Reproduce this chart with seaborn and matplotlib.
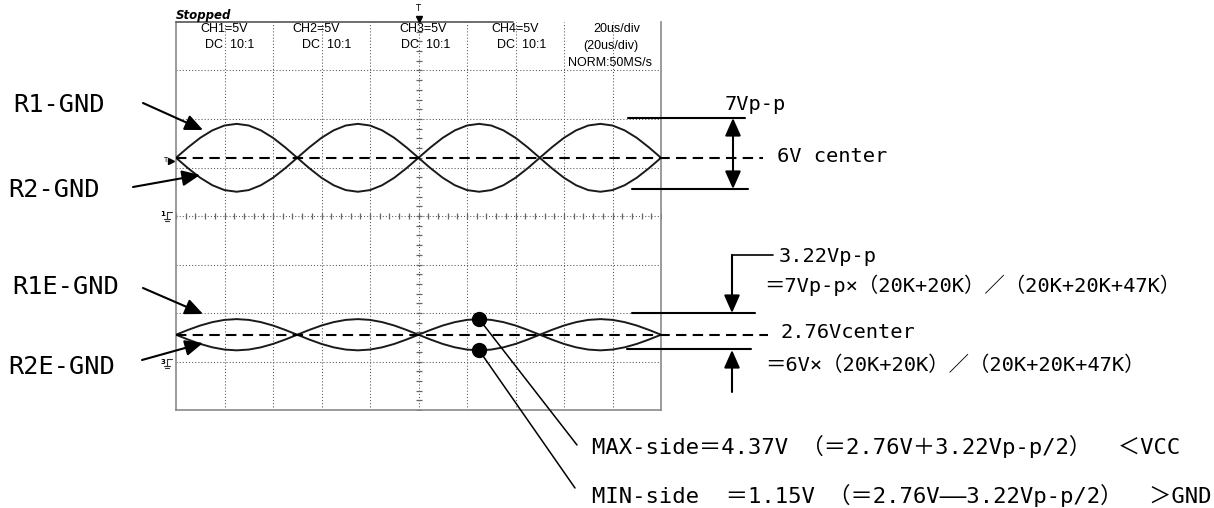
import matplotlib
matplotlib.use("Agg")
import matplotlib.pyplot as plt
import pandas as pd
import seaborn as sns

# ---------------- data ----------------
time_us = list(range(0, 205, 5))          # sample times, 0..200 us (10 div x 20 us)
r1_gnd = [6.00, 7.08, 8.06, 8.83, 9.33, 9.50, 9.33, 8.83, 8.06, 7.08,
          6.00, 4.92, 3.94, 3.17, 2.67, 2.50, 2.67, 3.17, 3.94, 4.92,
          6.00, 7.08, 8.06, 8.83, 9.33, 9.50, 9.33, 8.83, 8.06, 7.08,
          6.00, 4.92, 3.94, 3.17, 2.67, 2.50, 2.67, 3.17, 3.94, 4.92, 6.00]
r2_gnd = [6.00, 4.92, 3.94, 3.17, 2.67, 2.50, 2.67, 3.17, 3.94, 4.92,
          6.00, 7.08, 8.06, 8.83, 9.33, 9.50, 9.33, 8.83, 8.06, 7.08,
          6.00, 4.92, 3.94, 3.17, 2.67, 2.50, 2.67, 3.17, 3.94, 4.92,
          6.00, 7.08, 8.06, 8.83, 9.33, 9.50, 9.33, 8.83, 8.06, 7.08, 6.00]
r1e_gnd = [2.76, 3.26, 3.71, 4.06, 4.29, 4.37, 4.29, 4.06, 3.71, 3.26,
           2.76, 2.26, 1.81, 1.46, 1.23, 1.15, 1.23, 1.46, 1.81, 2.26,
           2.76, 3.26, 3.71, 4.06, 4.29, 4.37, 4.29, 4.06, 3.71, 3.26,
           2.76, 2.26, 1.81, 1.46, 1.23, 1.15, 1.23, 1.46, 1.81, 2.26, 2.76]
r2e_gnd = [2.76, 2.26, 1.81, 1.46, 1.23, 1.15, 1.23, 1.46, 1.81, 2.26,
           2.76, 3.26, 3.71, 4.06, 4.29, 4.37, 4.29, 4.06, 3.71, 3.26,
           2.76, 2.26, 1.81, 1.46, 1.23, 1.15, 1.23, 1.46, 1.81, 2.26,
           2.76, 3.26, 3.71, 4.06, 4.29, 4.37, 4.29, 4.06, 3.71, 3.26, 2.76]
trace_names = ["R1-GND", "R2-GND", "R1E-GND", "R2E-GND"]
trace_ground = [0.0, 0.0, -15.0, -15.0]   # ground position on the 5 V/div screen (CH1 centre, CH3 -3 div)

center_r12 = 6.0
center_r12e = 2.76
max_side_v = 4.37
min_side_v = 1.15
marker_time = 125

header_ch = ["CH1=5V", "CH2=5V", "CH3=5V", "CH4=5V"]
header_coupling = ["DC  10:1", "DC  10:1", "DC  10:1", "DC  10:1"]
header_timebase = ["20us/div", "(20us/div)", "NORM:50MS/s"]

label_pp_top = "7Vp-p"
label_center_top = "6V center"
label_pp_bot = "3.22Vp-p"
label_pp_formula = "＝7Vp-p×（20K+20K）／（20K+20K+47K）"
label_center_bot = "2.76Vcenter"
label_center_formula = "＝6V×（20K+20K）／（20K+20K+47K）"
label_max = "MAX-side＝4.37V （＝2.76V＋3.22Vp-p/2）  ＜VCC"
label_min = "MIN-side  ＝1.15V （＝2.76V——3.22Vp-p/2）  ＞GND"

# ---------------- style ----------------
sns.set_style("white")
plt.rcParams["font.family"] = ["DejaVu Sans Mono", "Noto Sans CJK JP"]

W, H = 1214, 508
fig = plt.figure(figsize=(W / 100, H / 100), dpi=100)
fig.patch.set_facecolor("white")

L, R, T, B = 176, 661, 22, 410
ax = fig.add_axes([L / W, 1 - B / H, (R - L) / W, (B - T) / H])
ax.set_xlim(0, 200)
ax.set_ylim(-20, 20)
ax.set_xticks([])
ax.set_yticks([])
for side in ["left", "right", "bottom"]:
    ax.spines[side].set_color("#8a8a8a")
    ax.spines[side].set_linewidth(1.2)
ax.spines["top"].set_visible(False)

# graticule
dot = (0, (1, 2))
for t in range(20, 200, 20):
    ax.axvline(t, color="#555555", lw=0.75, ls=dot, zorder=1)
for v in range(-15, 20, 5):
    ax.axhline(v, color="#555555", lw=0.75, ls=dot, zorder=1)
ax.plot([100] * 41, [-20 + i for i in range(41)], ls="none", marker="_",
        ms=5, mew=0.9, color="#666666", zorder=1)
ax.plot([4 * i for i in range(51)], [0] * 51, ls="none", marker="|",
        ms=5, mew=0.9, color="#666666", zorder=1)

# traces
rows = []
for name, vals, g in zip(trace_names, [r1_gnd, r2_gnd, r1e_gnd, r2e_gnd], trace_ground):
    for t, v in zip(time_us, vals):
        rows.append({"trace": name, "t": t, "v": v, "screen": v + g})
df = pd.DataFrame(rows)
for name in trace_names:
    sns.lineplot(data=df[df.trace == name], x="t", y="screen", ax=ax,
                 color="#1a1a1a", lw=1.4, legend=False, zorder=3)
ax.set_xlabel("")
ax.set_ylabel("")

# measurement dots
ax.plot([marker_time], [max_side_v + trace_ground[2]], marker="o", ms=10,
        color="black", zorder=6, clip_on=False)
ax.plot([marker_time], [min_side_v + trace_ground[2]], marker="o", ms=10,
        color="black", zorder=6, clip_on=False)

# ---------------- overlay for annotations (pixel coordinates) ----------------
ov = fig.add_axes([0, 0, 1, 1], zorder=5)
ov.set_xlim(0, W)
ov.set_ylim(H, 0)
ov.axis("off")
ov.patch.set_alpha(0)


def to_px(t, v):
    dx, dy = ax.transData.transform((t, v))
    return dx, H - dy


def put(x, yc, s, size, ha="left", **kw):
    ov.text(x, yc + 0.36 * size * 100 / 72, s, fontsize=size, ha=ha,
            va="baseline", color="black", **kw)


# partial top frame line
ov.plot([176, 513], [22, 22], color="#555555", lw=1.2)

# header
put(176, 15, "Stopped", 8.5, family=["DejaVu Sans"], style="italic", weight="bold")
ch_x = [224, 316, 423, 515]
dc_x = [230, 327, 426, 522]
for s, x in zip(header_ch, ch_x):
    put(x, 27, s, 9, ha="center", family=["Liberation Sans"])
for s, x in zip(header_coupling, dc_x):
    put(x, 44, s, 9, ha="center", family=["Liberation Sans"])
for s, x, y in zip(header_timebase, [617, 611, 610], [27, 44, 62]):
    put(x, y, s, 9, ha="center", family=["Liberation Sans"])

# trigger markers
put(418, 8, "T", 6, ha="center", family=["DejaVu Sans"])
ov.plot([419], [19], marker="v", ms=4, color="black")
put(165, 160, "T", 5, ha="center", family=["DejaVu Sans"])
ov.plot([171], [161], marker=">", ms=4, color="black")
# ground markers
for label, gy in [("1", 216), ("3", 363)]:
    put(163, gy - 2, label, 5, ha="center", family=["DejaVu Sans"], weight="bold")
    ov.plot([167, 172], [gy - 4, gy - 4], color="#333333", lw=0.8)
    ov.plot([167, 167], [gy - 4, gy + 3], color="#333333", lw=0.8)
    ov.plot([164, 170], [gy + 3, gy + 3], color="#333333", lw=0.8)
    ov.plot([165, 169], [gy + 5, gy + 5], color="#333333", lw=0.8)

# left labels and arrows
arrow_kw = dict(arrowstyle="-|>,head_length=0.9,head_width=0.4", color="black",
                lw=1.5, mutation_scale=12, shrinkA=0, shrinkB=0)
left_pos = [(13, 103), (8, 188), (12, 285), (8, 365)]
arrows = [((143, 103), (203, 130)), ((133, 187), (200, 175)),
          ((143, 288), (203, 314)), ((142, 360), (203, 343))]
for name, (x, y), (tail, tip) in zip(trace_names, left_pos, arrows):
    put(x, y, name, 18.2)
    ov.annotate("", xy=tip, xytext=tail, arrowprops=arrow_kw)

# centre dashed lines
dash = (0, (5, 3))
_, y6 = to_px(0, center_r12 + trace_ground[0])
_, y276 = to_px(0, center_r12e + trace_ground[2])
ov.plot([176, 763], [y6, y6], color="black", lw=1.5, ls=dash, zorder=4)
ov.plot([176, 768], [y276, y276], color="black", lw=1.5, ls=dash, zorder=4)

# upper bracket
ov.plot([628, 745], [118, 118], color="black", lw=1.5)
ov.plot([632, 748], [189, 189], color="black", lw=1.5)
ov.annotate("", xy=(733, 118), xytext=(733, 189),
            arrowprops=dict(arrowstyle="<|-|>,head_length=0.9,head_width=0.4",
                            color="black", lw=1.5, mutation_scale=12,
                            shrinkA=0, shrinkB=0))
put(725, 103, label_pp_top, 14.7)
put(777, 155, label_center_top, 14.7)

# lower bracket
ov.plot([632, 755], [313, 313], color="black", lw=1.5)
ov.plot([627, 751], [349, 349], color="black", lw=1.5)
ov.plot([732, 773], [255, 255], color="black", lw=1.2)
ov.annotate("", xy=(732, 313), xytext=(732, 255), arrowprops=arrow_kw)
ov.annotate("", xy=(732, 350), xytext=(732, 392), arrowprops=arrow_kw)
put(779, 255, label_pp_bot, 14.7)
put(764, 285, label_pp_formula, 14.7)
put(781, 331, label_center_bot, 14.7)
put(765, 364, label_center_formula, 14.7)

# leader lines from dots
mx, my = to_px(marker_time, max_side_v + trace_ground[2])
nx, ny = to_px(marker_time, min_side_v + trace_ground[2])
ov.plot([mx, 577], [my, 445], color="black", lw=1.1)
ov.plot([nx, 575], [ny, 488], color="black", lw=1.1)
put(592, 446, label_max, 16)
put(592, 495, label_min, 16)

fig.savefig("out.png", dpi=100, facecolor="white")
